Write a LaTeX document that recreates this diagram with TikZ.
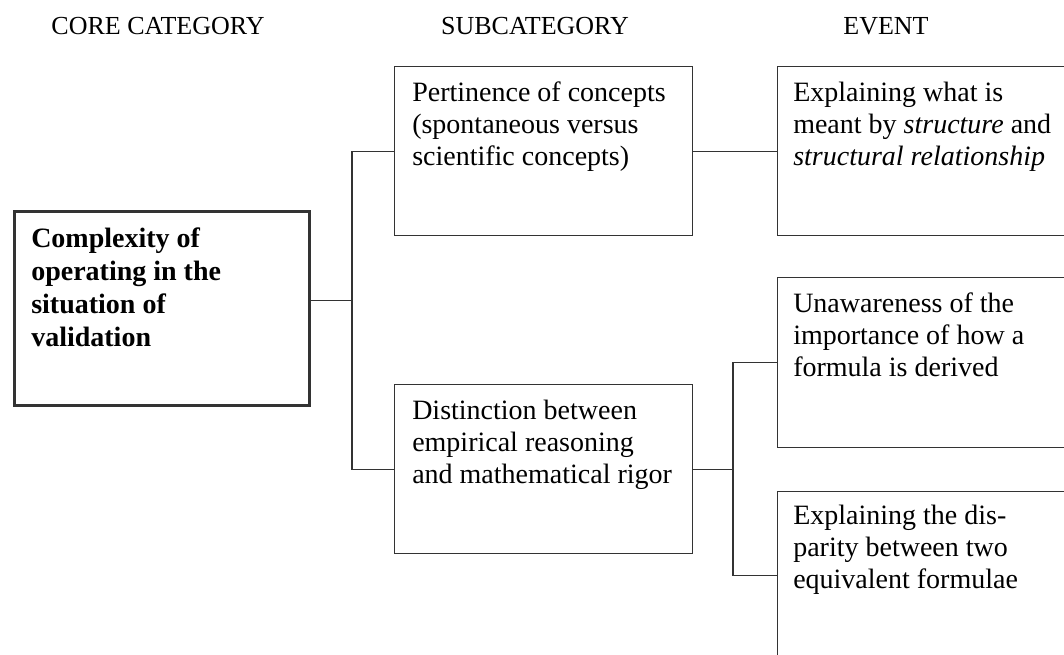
\documentclass[tikz,border=0pt]{standalone}
\usepackage{fontspec}
\setmainfont{Liberation Serif}
\usetikzlibrary{positioning}
\usetikzlibrary{calc}
\tikzset{head/.style={anchor=base, font=\fontsize{19.5}{23}\selectfont}}
\tikzset{cell/.style={draw=black!80, line width=0.8pt, anchor=north west, inner sep=0pt, minimum width=223.5pt, minimum height=126.75pt}}
\tikzset{txt/.style={anchor=north west, inner sep=0pt, align=left, font=\fontsize{21}{24}\selectfont}}
\tikzset{ln/.style={draw=black!80, line width=0.8pt}}

\begin{document}
\begin{tikzpicture}[x=0.75pt, y=-0.75pt]
\clip (0,0) rectangle (1064,654);

%%% Headings:

\node[head] (h1) at (158,34) {CORE CATEGORY};
\node[head] (h2) at (535,34) {SUBCATEGORY};
\node[head] (h3) at (886,34) {EVENT};

%%% Core:

\node[cell, line width=2.25pt, minimum width=221.25pt, minimum height=145.5pt] (core) at (13,210) {};
\node[txt, font=\fontsize{21}{24.75}\selectfont\bfseries] (coret) [below right = 10.5pt and 13.5pt of core.north west]
 {\strut Complexity of\\ operating in the\\ situation of\\ validation};

%%% Subcategories:

\node[cell] (sub1) at (394,66) {};
\node[txt] (sub1t) [below right = 9.5pt and 13.5pt of sub1.north west]
 {\strut Pertinence of concepts\\ (spontaneous versus\\ scientific concepts)};

\node[cell] (sub2) at (394,384) {};
\node[txt] (sub2t) [below right = 9.5pt and 13.5pt of sub2.north west]
 {\strut Distinction between\\ empirical reasoning\\ and mathematical rigor};

%%% Events:

\node[cell, minimum width=225pt, minimum height=126.75pt] (ev1) at (777,66) {};
\node[txt] (ev1t) [below right = 9.5pt and 12pt of ev1.north west]
 {\strut Explaining what is\\ meant by \textit{structure} and\\ \textit{structural relationship}};

\node[cell, minimum width=225pt, minimum height=127.5pt] (ev2) at (777,277) {};
\node[txt] (ev2t) [below right = 9.5pt and 12pt of ev2.north west]
 {\strut Unawareness of the\\ importance of how a\\ formula is derived};

\node[cell, minimum width=225pt, minimum height=126pt] (ev3) at (777,491) {};
\node[txt] (ev3t) [below right = 8pt and 12pt of ev3.north west]
 {\strut Explaining the dis-\\ parity between two\\ equivalent formulae};

%%% Connectors:

\coordinate (c1) at ($(core.east)+(0,-8)$);
\coordinate (j1) at (352,0);
\coordinate (j2) at (733,0);

\draw[ln] (c1) -- (c1 -| j1);
\draw[ln] (sub1.west) -| (c1 -| j1) |- (sub2.west);
\draw[ln] (sub1.east) -- (sub1.east -| ev1.west);
\draw[ln] (sub2.east) -- (sub2.east -| j2);
\draw[ln] (ev2.west) -| (sub2.east -| j2) |- (ev3.west);

\end{tikzpicture}
\end{document}
